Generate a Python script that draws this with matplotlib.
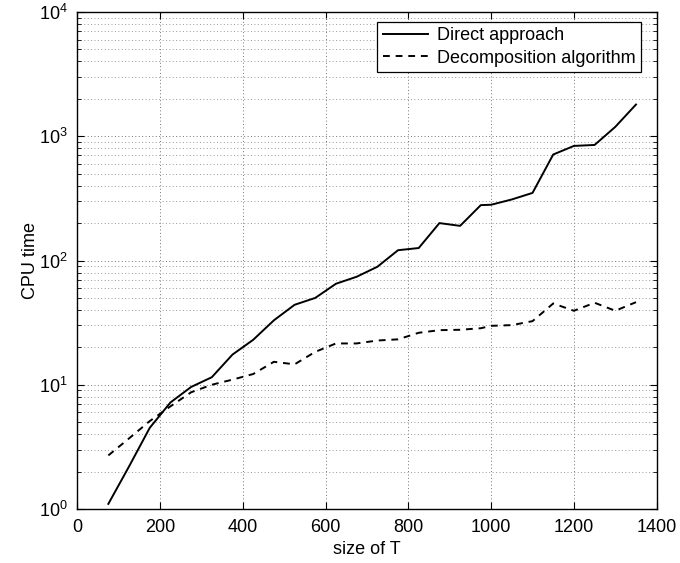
import matplotlib
matplotlib.use('Agg')
import matplotlib.pyplot as plt
from matplotlib.ticker import LogLocator, NullFormatter, MultipleLocator

plt.rcParams['font.family'] = ['Liberation Sans', 'DejaVu Sans']
plt.rcParams['mathtext.default'] = 'regular'

# data
size_T = [75, 125, 175, 225, 275, 325, 375, 425, 475, 525, 575, 625, 675, 725,
          775, 825, 875, 925, 975, 1000, 1050, 1100, 1150, 1200, 1250, 1300, 1350]
direct = [1.1, 2.2, 4.5, 7.2, 9.6, 11.5, 17.5, 23, 33, 44, 50, 65, 74, 89,
          121, 126, 200, 190, 279, 281, 310, 350, 713, 836, 851, 1190, 1800]
decomp = [2.7, 3.7, 5.1, 6.7, 8.7, 10.0, 11.0, 12.2, 15.3, 14.6, 18.4, 21.5, 21.5, 22.7,
          23.2, 26.2, 27.5, 27.7, 28.5, 29.8, 30.2, 32.5, 45.1, 39.4, 45.7, 39.4, 46.2]
labels = ['Direct approach', 'Decomposition algorithm']

fig = plt.figure(figsize=(6.8, 5.63), dpi=100)
ax = fig.add_axes([0.1137, 0.0959, 0.852, 0.8828])

ax.semilogy(size_T, direct, color='k', lw=1.4, ls='-', label=labels[0])
ax.semilogy(size_T, decomp, color='k', lw=1.4, ls=(0, (3.5, 3)), label=labels[1])

ax.set_xlim(0, 1400)
ax.set_ylim(1, 1e4)
ax.xaxis.set_major_locator(MultipleLocator(200))
ax.yaxis.set_major_locator(LogLocator(base=10, numticks=10))
ax.yaxis.set_minor_locator(LogLocator(base=10, subs=range(2, 10), numticks=10))
ax.yaxis.set_minor_formatter(NullFormatter())

ax.grid(True, which='major', ls=(0, (1, 2.5)), color='0.45', lw=0.7)
ax.grid(True, which='minor', axis='y', ls=(0, (1, 2.5)), color='0.6', lw=0.7)

ax.tick_params(which='both', direction='in', top=True, right=True, labelsize=13, pad=7)
ax.tick_params(which='major', length=5)
ax.tick_params(which='minor', length=3)
for s in ax.spines.values():
    s.set_linewidth(1.0)

ax.set_xlabel('size of T', fontsize=13)
ax.set_ylabel('CPU time', fontsize=13)
ax.yaxis.set_label_coords(-0.066, 0.5)

leg = ax.legend(loc='upper right', bbox_to_anchor=(0.973, 0.980), fontsize=13,
                fancybox=False, framealpha=1, edgecolor='k', handlelength=2.5,
                borderpad=0.3, labelspacing=0.3, handletextpad=0.5, borderaxespad=0)
leg.get_frame().set_linewidth(0.9)

fig.savefig('out.png', dpi=100)
